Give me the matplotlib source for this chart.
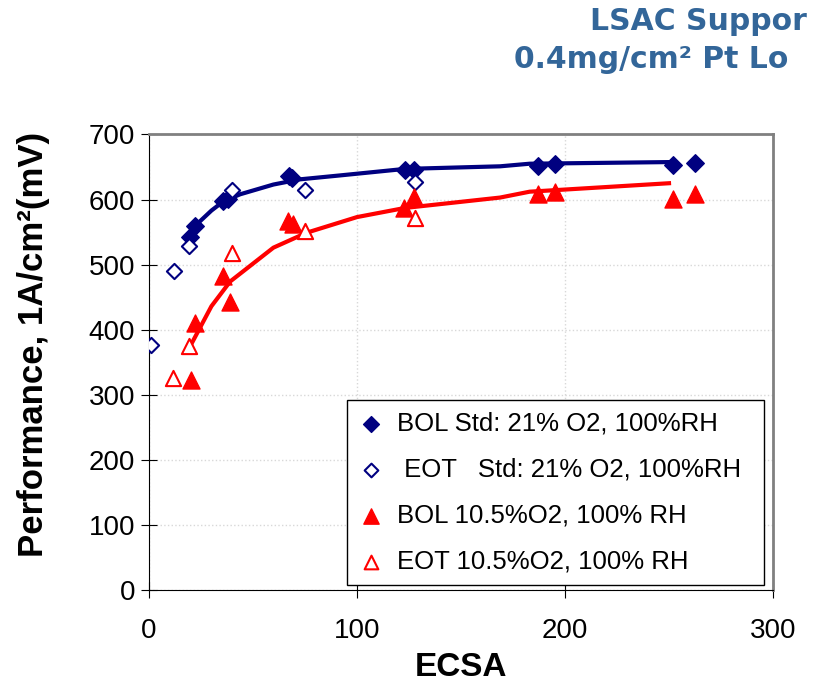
import numpy as np
import matplotlib.pyplot as plt

plt.rcParams['font.family'] = ['Liberation Sans', 'DejaVu Sans']

# ECSA vs performance at 1 A/cm2
bol_std_x = [19.7, 22.1, 35.7, 38.1, 67.5, 68.6, 123, 127.5, 187, 195, 252, 262.5]
bol_std_y = [542, 560, 597, 601, 636, 633, 646, 646, 651, 655, 653, 656]

eot_std_x = [1, 12, 19, 39.8, 75, 128]
eot_std_y = [377, 490, 528, 614, 614, 627]

bol_low_x = [20, 22, 35.7, 39, 67, 69, 122.6, 127.5, 187, 195, 252, 262.5]
bol_low_y = [323, 410, 482, 443, 567, 563, 587, 604, 608, 611, 601, 609]

eot_low_x = [11.7, 19, 40, 75, 128]
eot_low_y = [326, 375, 518, 552, 572]

# trend lines (traced)
fit_std_x = [19.7, 22, 30, 35.7, 43.8, 59.8, 72.6, 91.8, 123, 168.8, 183, 250]
fit_std_y = [543, 559, 583, 597, 608, 623, 631, 637, 647, 651, 655, 657.5]

fit_low_x = [19.7, 30, 39, 59.8, 75.8, 100, 123, 168.8, 183, 250]
fit_low_y = [374, 436, 474, 526, 549, 573, 587, 603, 612, 625]

navy = '#000080'
red = '#FF0000'

fig = plt.figure(figsize=(8.13, 6.82), dpi=100)
ax = fig.add_axes([0.1833, 0.1349, 0.7675, 0.668])

ax.plot(fit_std_x, fit_std_y, color=navy, linewidth=3, zorder=2)
ax.plot(fit_low_x, fit_low_y, color=red, linewidth=3, zorder=2)

ax.scatter(bol_std_x, bol_std_y, marker='D', s=80, color=navy, zorder=3,
           label='BOL Std: 21% O2, 100%RH')
ax.scatter(eot_std_x, eot_std_y, marker='D', s=60, facecolors='white',
           edgecolors=navy, linewidths=1.5, zorder=3,
           label=' EOT   Std: 21% O2, 100%RH')
ax.scatter(bol_low_x, bol_low_y, marker='^', s=150, color=red, zorder=3,
           label='BOL 10.5%O2, 100% RH')
ax.scatter(eot_low_x, eot_low_y, marker='^', s=120, facecolors='white',
           edgecolors=red, linewidths=1.5, zorder=3,
           label='EOT 10.5%O2, 100% RH')

ax.set_xlim(0, 300)
ax.set_ylim(0, 700)
ax.set_xticks([0, 100, 200, 300])
ax.set_yticks(range(0, 701, 100))
ax.tick_params(axis='y', labelsize=20, length=12, direction='inout', pad=4)
ax.tick_params(axis='x', labelsize=20, length=12, direction='inout', pad=14)
ax.grid(True, color='#d8d8d8', linestyle=':', linewidth=1)
ax.set_axisbelow(True)
for s in ['top', 'right']:
    ax.spines[s].set_color('#808080')
    ax.spines[s].set_linewidth(2)
for s in ['left', 'bottom']:
    ax.spines[s].set_color('black')

ax.set_xlabel('ECSA', fontsize=24, fontweight='bold', labelpad=6)
ax.set_ylabel('Performance, 1A/cm²(mV)', fontsize=25, fontweight='bold')
ax.yaxis.set_label_coords(-0.159, 0.54)

leg = ax.legend(loc='upper left', bbox_to_anchor=(0.317, 0.417, 0.669, 0.0),
                mode='expand', borderaxespad=0, fontsize=18.5, frameon=True,
                fancybox=False, edgecolor='black', framealpha=1,
                borderpad=0.45, labelspacing=0.86, handletextpad=0.5,
                markerscale=0.9, handlelength=1.0)
leg.get_frame().set_linewidth(1)

fig.text(590 / 813, 1 - 22 / 682, 'LSAC Suppor', fontsize=21.5,
         family='DejaVu Sans', fontweight='bold', color='#336699',
         ha='left', va='center')
fig.text(514 / 813, 1 - 60 / 682, '0.4mg/cm² Pt Lo', fontsize=21.5,
         family='DejaVu Sans', fontweight='bold', color='#336699',
         ha='left', va='center')

fig.savefig('out.png', dpi=100)
